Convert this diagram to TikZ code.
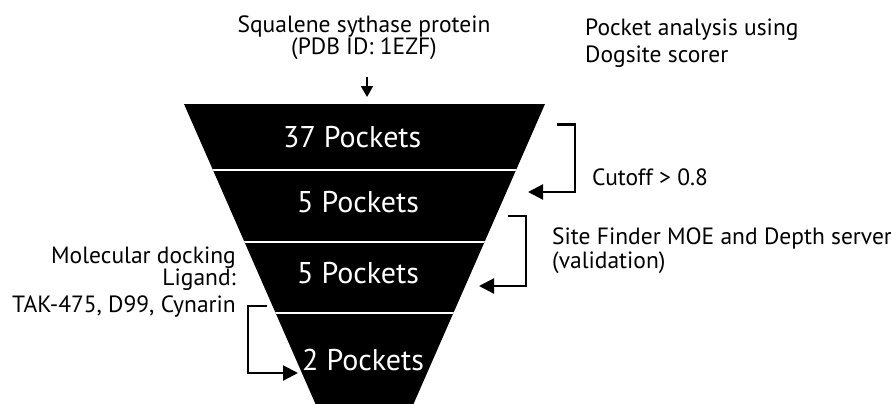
\documentclass[tikz,border=0pt]{standalone}
\usepackage{fontspec}
\setmainfont{PT Sans}
\usetikzlibrary{arrows.meta}
\begin{document}
\begin{tikzpicture}[x=1pt,y=-1pt,
  lbl/.style={inner sep=0pt, font=\fontsize{23.5}{22}\selectfont},
  pocket/.style={inner sep=0pt, anchor=base west, text=white,
                 font=\fontsize{30}{30}\selectfont},
  bracket/.style={line width=2.2pt, -{Triangle[length=15pt,width=15pt]}},
  feed/.style={line width=2pt, -{Triangle[length=11pt,width=12pt]}},
  divider/.style={white, line width=2.8pt}
]
\useasboundingbox (0,0) rectangle (891,404);

% funnel body
\fill (184,104) -- (545,104) -- (413.5,404) -- (315.5,404) -- cycle;
\begin{scope}
  \clip (184,104) -- (545,104) -- (413.5,404) -- (315.5,404) -- cycle;
  \foreach \yy in {170,242,313}
    \draw[divider] (150,\yy) -- (600,\yy);
\end{scope}

% stage labels
\node[pocket] (p37) at (283,147) {37 Pockets};
\node[pocket] (p5a) at (297,212) {5 Pockets};
\node[pocket] (p5b) at (297,283) {5 Pockets};
\node[pocket] (p2)  at (302,370) {2 Pockets};

% annotations (multi-line nodes are anchored at the last baseline)
\node[lbl, anchor=base, align=center] (protein) at (364,55)
  {Squalene sythase protein\\(PDB ID: 1EZF)};
\node[lbl, anchor=base west, align=left, font=\fontsize{23.5}{27}\selectfont]
  (dogsite) at (585,63) {Pocket analysis using\\Dogsite scorer};
\node[lbl, anchor=base west] (cutoff) at (592,185) {Cutoff > 0.8};
\node[lbl, anchor=base west, align=left, font=\fontsize{23.5}{24}\selectfont]
  (site) at (552,268) {Site Finder MOE and Depth server\\(validation)};
\node[lbl, anchor=base east, align=right] (dock) at (236,312)
  {Molecular docking\\Ligand:\\[5pt]TAK-475, D99, Cynarin};

% connectors
\coordinate (in0) at (367,77);
\coordinate (in1) at (367,97);
\draw[feed] (in0) -- (in1);

\coordinate (cutS) at (557,124.5);
\coordinate (cutE) at (528,192);
\draw[bracket] (cutS) -- ++(18,0) |- (cutE);

\coordinate (siteS) at (508,216);
\coordinate (siteE) at (479,286);
\draw[bracket] (siteS) -- ++(18,0) |- (siteE);

\coordinate (dockS) at (267,306);
\coordinate (dockE) at (298,373);
\draw[bracket] (dockS) -- ++(-19,0) |- (dockE);
\end{tikzpicture}
\end{document}
